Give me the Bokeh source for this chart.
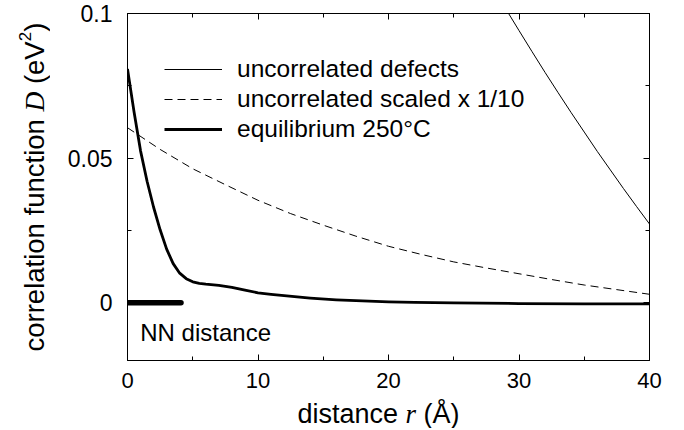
import math
from bokeh.plotting import figure
from bokeh.layouts import row, column
from bokeh.models import (Range1d, LinearAxis, FixedTicker, Label, Legend,
                          LegendItem, CustomJSTickFormatter)
from bokeh.core.properties import value
from bokeh.embed import file_html
from bokeh.resources import INLINE

# ---------------- data ----------------
r_uncorr = [27, 28, 29, 30, 31, 32, 33, 34, 35, 36, 37, 38, 39, 40]
d_uncorr = [0.1168, 0.1091, 0.1015, 0.0941, 0.0868, 0.0796, 0.0726, 0.0657,
            0.0590, 0.0523, 0.0459, 0.0395, 0.0333, 0.0272]

r_scaled = [0, 2.5, 5, 7.5, 10, 12.5, 15, 17.5, 20, 22.5, 25, 27.5, 30,
            32.5, 35, 37.5, 40]
d_scaled = [0.0605, 0.0530, 0.0463, 0.0408, 0.0354, 0.0308, 0.0268, 0.0230,
            0.0195, 0.0167, 0.0141, 0.0120, 0.0100, 0.0080, 0.0061, 0.0045,
            0.0029]

r_equil = [0, 0.5, 1, 1.5, 2, 2.5, 3, 3.5, 4, 4.5, 5, 5.5, 6, 7, 8, 9, 10,
           11, 12, 14, 16, 18, 20, 22, 25, 30, 35, 40]
d_equil = [0.0808, 0.0660, 0.0525, 0.0420, 0.0330, 0.0252, 0.0185, 0.0135,
           0.0102, 0.0083, 0.0072, 0.0067, 0.0064, 0.0060, 0.0053, 0.0043,
           0.0034, 0.0029, 0.0024, 0.0016, 0.0010, 0.0006, 0.0003, 0.0001,
           -0.0001, -0.0003, -0.0004, -0.0004]

nn_r = [0.0, 4.1]
nn_d = [0.0, 0.0]

series_labels = ["uncorrelated defects", "uncorrelated scaled x 1/10",
                 "equilibrium 250\u00b0C"]

x_ticks = [0, 10, 20, 30, 40]
x_minor = [5, 15, 25, 35]
y_ticks = [0, 0.05, 0.1]
y_tick_labels = ["0", "0.05", "0.1"]
y_minor = [0.025, 0.075]

SANS = "Liberation Sans"
SERIF = "Liberation Serif"

YW = 50          # width of the strip holding the y-axis title
XH = 32          # height of the strip holding the x-axis title
MW, MH = 626, 396
BL, BR, BT, BB = 77, 27, 13, 36   # borders of the main plot

p = figure(width=MW, height=MH, x_range=Range1d(0, 40),
           y_range=Range1d(-0.02, 0.1), output_backend="svg",
           toolbar_location=None, min_border_left=BL, min_border_right=BR,
           min_border_top=BT, min_border_bottom=BB)
p.grid.visible = False
p.outline_line_color = "black"
p.background_fill_color = "white"
p.border_fill_color = "white"


def style_axis(ax, show_labels=True, size="22px"):
    ax.axis_line_color = "black"
    ax.major_tick_line_color = "black"
    ax.minor_tick_line_color = "black"
    ax.major_tick_in = 6
    ax.major_tick_out = 0
    ax.minor_tick_in = 4
    ax.minor_tick_out = 0
    ax.major_label_text_font = SANS
    ax.major_label_text_color = "black"
    ax.major_label_text_font_size = size
    if not show_labels:
        ax.formatter = CustomJSTickFormatter(code="return ''")
        ax.major_label_standoff = 0


p.xaxis.ticker = FixedTicker(ticks=x_ticks, minor_ticks=x_minor)
p.yaxis.ticker = FixedTicker(ticks=y_ticks, minor_ticks=y_minor)
p.yaxis.major_label_overrides = {float(t): s for t, s in zip(y_ticks, y_tick_labels)}
style_axis(p.xaxis[0])
style_axis(p.yaxis[0], size="23px")
p.xaxis.major_label_standoff = 12
p.yaxis.major_label_standoff = 15

top = LinearAxis(ticker=FixedTicker(ticks=x_ticks, minor_ticks=x_minor))
style_axis(top, False)
p.add_layout(top, "above")
right = LinearAxis(ticker=FixedTicker(ticks=y_ticks, minor_ticks=y_minor))
style_axis(right, False)
p.add_layout(right, "right")

r1 = p.line(r_uncorr, d_uncorr, line_color="black", line_width=1)
r2 = p.line(r_scaled, d_scaled, line_color="black", line_width=1,
            line_dash="8 5")
r3 = p.line(r_equil, d_equil, line_color="black", line_width=2.8,
            line_join="round")
p.line(nn_r, nn_d, line_color="black", line_width=5.5, line_cap="round")

legend = Legend(items=[LegendItem(label=series_labels[0], renderers=[r1]),
                       LegendItem(label=series_labels[1], renderers=[r2]),
                       LegendItem(label=series_labels[2], renderers=[r3])],
                location=(37, 217), glyph_width=58, glyph_height=28,
                label_height=28, spacing=2, padding=0, margin=0,
                label_standoff=15, border_line_alpha=0,
                background_fill_alpha=0, label_text_font=SANS,
                label_text_font_size="24.5px", label_text_color="black")
p.add_layout(legend)

p.add_layout(Label(x=0.98, y=-0.01015, text="NN distance", text_font=SANS,
                   text_font_size="24px", text_color="black",
                   text_baseline="alphabetic"))


def strip(w, h, bl=0, br=0, bt=0, bb=0):
    fw, fh = w - bl - br, h - bt - bb
    f = figure(width=w, height=h, x_range=Range1d(0, fw),
               y_range=Range1d(0, fh), output_backend="svg",
               toolbar_location=None, x_axis_type=None, y_axis_type=None,
               min_border_left=bl, min_border_right=br, min_border_top=bt,
               min_border_bottom=bb)
    f.grid.visible = False
    f.outline_line_color = None
    f.background_fill_color = "white"
    f.border_fill_color = "white"
    return f


TXT = dict(text_color="black", text_baseline="alphabetic", text_align="left")

# y-axis title strip, its frame matched to the main frame vertically
ys = strip(YW, MH + XH, bt=BT, bb=MH + XH - (MH - BB))
ang = math.pi / 2
YF = "27.5px"
ys.text(x=[34], y=[9], text=["correlation function"], angle=ang,
        text_font=value(SANS), text_font_size=YF, **TXT)
ys.text(x=[34], y=[248.9], text=["D"], angle=ang, text_font=value(SERIF),
        text_font_style="italic", text_font_size=YF, **TXT)
ys.text(x=[34], y=[276.4], text=["(eV"], angle=ang, text_font=value(SANS),
        text_font_size=YF, **TXT)
ys.text(x=[24], y=[319.2], text=["2"], angle=ang, text_font=value(SANS),
        text_font_size="17px", **TXT)
ys.text(x=[34], y=[328.7], text=[")"], angle=ang, text_font=value(SANS),
        text_font_size=YF, **TXT)

# x-axis title strip, its frame matched to the main frame horizontally
xs = strip(MW, XH, bl=BL, br=BR)
xs.text(x=[170], y=[15], text=["distance"], text_font=value(SANS),
        text_font_size="27px", **TXT)
xs.text(x=[278], y=[15], text=["r"], text_font=value(SERIF),
        text_font_style="italic", text_font_size="27px", **TXT)
xs.text(x=[296], y=[15], text=["(\u00c5)"], text_font=value(SANS),
        text_font_size="27px", **TXT)

layout = row(ys, column(p, xs, spacing=0), spacing=0)

open("out.html", "w").write(file_html(layout, INLINE))
